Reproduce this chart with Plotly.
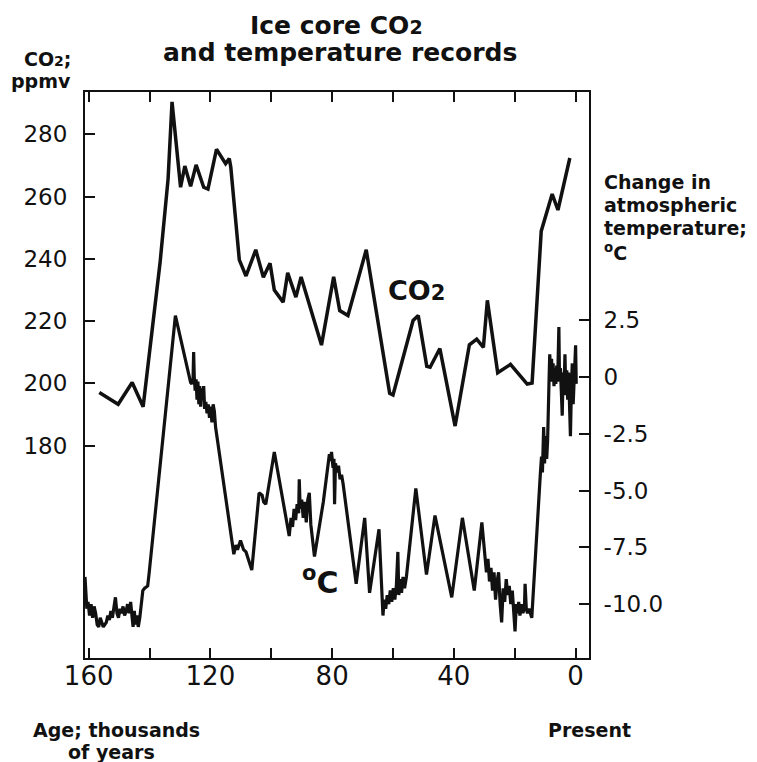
import plotly.graph_objects as go

# ---------------- data ----------------
co2_age = [156.5, 150.3, 145.7, 142.1, 136.5, 134.6, 133.9, 132.6, 129.8, 128.4,
           126.5, 124.7, 122.2, 120.8, 118.0, 115.0, 113.8, 113.3, 110.5, 108.3,
           105.1, 102.6, 100.4, 99.0, 96.1, 94.6, 91.9, 90.2, 83.5, 79.5,
           77.5, 74.8, 68.8, 61.1, 60.0, 53.4, 51.7, 48.9, 47.8, 44.6,
           39.6, 34.9, 32.5, 30.3, 29.0, 25.6, 21.4, 15.9, 14.3, 11.3,
           7.7, 5.8, 1.9]
co2_ppm = [197.1, 193.3, 200.3, 192.5, 239.1, 258.1, 265.7, 290.4, 263.0, 269.8,
           263.3, 270.2, 263.0, 262.4, 275.2, 270.6, 272.2, 269.5, 239.7, 234.5,
           242.9, 234.1, 238.6, 230.0, 226.1, 235.5, 227.7, 234.2, 212.3, 234.2,
           223.4, 221.8, 242.9, 196.8, 196.3, 220.2, 221.8, 205.5, 205.2, 211.2,
           186.3, 212.4, 214.2, 211.6, 226.7, 203.4, 206.1, 199.8, 200.1, 248.9,
           260.8, 255.7, 272.4]

temp_age_a = [161.2, 160.9, 160.6, 160.2, 159.7, 159.2, 158.7, 158.2, 157.7, 157.2,
              156.7, 156.2, 155.2, 154.2, 153.7, 153.2, 152.7, 152.2, 151.7, 151.2,
              150.7, 150.2, 149.7, 149.2, 148.7, 148.2, 147.7, 147.2, 146.7, 146.2,
              145.7, 145.4, 145.0, 144.6, 144.2, 143.7, 143.2, 142.7, 142.2, 141.6,
              140.6, 140.1]
temp_val_a = [-8.8, -9.8, -10.2, -9.9, -10.5, -10.0, -10.6, -10.1, -10.4, -10.9,
              -11.0, -10.6, -11.0, -10.8, -10.5, -10.7, -10.3, -10.6, -10.1, -9.7,
              -10.4, -10.6, -10.2, -10.4, -10.1, -10.5, -10.3, -10.0, -10.4, -9.9,
              -10.6, -11.0, -10.3, -10.9, -10.5, -11.0, -10.6, -10.0, -9.4, -9.3,
              -9.2, -8.6]

temp_age_b = [131.5, 126.5, 126.1, 125.7, 125.5, 125.3, 125.0, 124.7, 124.4, 124.1,
              123.8, 123.5, 123.2, 122.9, 122.6, 122.2, 121.9, 121.5, 121.1, 120.7,
              120.3, 119.9, 119.5, 119.1, 118.7, 118.3]
temp_val_b = [2.7, -0.24, -0.3, -0.1, 1.1, 0.0, -0.6, -0.1, -1.0, -0.2,
              -1.2, -0.4, -1.3, -0.5, -1.0, -0.4, -1.4, -1.1, -1.6, -1.2,
              -1.8, -1.3, -2.0, -1.2, -1.5, -2.2]

temp_age_c = [112.3, 111.6, 111.1, 110.1, 109.1, 108.3, 106.4, 104.0, 103.0, 102.5,
              101.8, 99.0, 94.1, 93.5, 93.0, 92.5, 92.0, 91.5, 91.0, 90.8,
              90.5, 90.0, 89.5, 89.0, 88.5, 88.0, 87.5, 87.0, 85.8, 82.9,
              80.9, 80.5, 80.2, 79.7, 79.4, 79.2, 78.9, 78.4, 77.9, 77.4,
              76.9, 76.4]
temp_val_c = [-7.8, -7.4, -7.6, -7.2, -7.6, -7.7, -8.5, -5.1, -5.2, -5.5,
              -5.6, -3.3, -7.0, -6.2, -6.6, -5.8, -6.3, -5.6, -6.0, -4.5,
              -5.8, -5.4, -6.2, -5.5, -6.4, -5.4, -5.1, -6.5, -7.9, -5.5,
              -3.4, -3.7, -3.3, -4.0, -3.6, -5.6, -3.8, -4.2, -3.9, -4.5,
              -4.3, -4.7]

temp_age_d = [72.1, 69.3, 67.7, 64.6, 63.3, 62.9, 62.4, 61.9, 61.4, 60.9,
              60.4, 59.9, 59.4, 58.9, 58.4, 58.1, 57.7, 57.2, 56.7, 56.2,
              55.6, 52.5, 49.0, 46.2, 40.7, 37.2, 33.3, 30.8, 29.8, 29.3,
              28.8, 28.3, 27.8, 27.3, 26.8, 26.3, 25.8, 25.3, 24.8, 24.3,
              23.8, 23.3, 22.8, 22.3, 21.8, 21.3, 20.8, 20.3, 19.9, 19.5,
              19.1, 18.7, 18.3, 17.8, 17.3, 16.8, 16.6, 16.2, 15.8, 15.3,
              14.8, 14.4]
temp_val_d = [-9.1, -6.2, -9.5, -6.7, -10.5, -9.8, -10.2, -9.6, -10.0, -9.4,
              -9.9, -9.3, -9.8, -9.2, -7.7, -9.6, -8.9, -9.5, -8.8, -9.3,
              -8.8, -4.9, -8.7, -6.1, -9.7, -6.2, -9.4, -6.4, -7.8, -8.6,
              -8.0, -9.0, -8.4, -9.4, -8.6, -9.8, -9.0, -8.6, -10.0, -10.8,
              -9.3, -9.9, -8.9, -9.6, -9.2, -10.0, -9.4, -10.3, -11.2, -10.0,
              -10.4, -9.9, -10.5, -10.0, -10.4, -10.1, -9.1, -10.2, -10.4, -10.2,
              -10.5, -10.6]

temp_age_e = [11.6, 11.2, 10.9, 10.5, 10.2, 9.9, 9.5, 9.2, 8.7, 8.5,
              8.2, 7.9, 7.7, 7.4, 7.1, 6.8, 6.5, 6.2, 5.9, 5.5,
              5.3, 5.0, 4.7, 4.4, 4.1, 3.8, 3.5, 3.2, 2.9, 2.6,
              2.3, 2.0, 1.7, 1.4, 1.1, 0.8, 0.4, 0.0, -0.2]
temp_val_e = [-4.3, -3.5, -4.2, -2.2, -3.8, -2.6, -3.6, -2.8, 0.0, 1.0,
              0.2, 0.8, -0.2, 0.6, -0.4, 0.4, -0.3, 0.5, -0.2, 2.2,
              0.0, 0.4, -0.6, -1.7, 0.2, -0.5, 1.0, -0.8, 0.3, -1.0,
              0.2, -1.4, -2.6, -0.6, 0.6, -1.2, 0.4, 1.4, -0.3]

age_ticks = [160, 120, 80, 40, 0]
age_minor_ticks = [140, 100, 60, 20]
co2_ticks = [280, 260, 240, 220, 200, 180]
temp_ticks = [2.5, 0, -2.5, -5.0, -7.5, -10.0]
temp_labels = ["2.5", "0", "-2.5", "-5.0", "-7.5", "-10.0"]

temp_age = temp_age_a + temp_age_b + temp_age_c + temp_age_d + temp_age_e
temp_val = temp_val_a + temp_val_b + temp_val_c + temp_val_d + temp_val_e

# ---------------- layout geometry ----------------
W_FIG, H_FIG = 757, 762
L, R, T, B = 85, 589, 92, 658
PW, PH = R - L, B - T

def px(x):
    return (x - L) / PW

def py(y):
    return (B - y) / PH

INK = "#111111"
FONT = "DejaVu Sans"

fig = go.Figure()
fig.add_trace(go.Scatter(x=co2_age, y=co2_ppm, mode="lines",
                         line=dict(color=INK, width=3.5), yaxis="y",
                         showlegend=False, hoverinfo="skip"))
fig.add_trace(go.Scatter(x=temp_age, y=temp_val, mode="lines",
                         line=dict(color=INK, width=3.2), yaxis="y2",
                         showlegend=False, hoverinfo="skip"))

fig.update_layout(
    width=W_FIG, height=H_FIG,
    margin=dict(l=L, r=W_FIG - R, t=T, b=H_FIG - B, pad=0),
    paper_bgcolor="white", plot_bgcolor="white",
    showlegend=False,
    font=dict(family=FONT, color=INK),
    xaxis=dict(range=[161.2, -4.4], tickmode="array", tickvals=age_ticks,
               ticks="inside", ticklen=10, tickwidth=1.5, tickcolor=INK,
               minor=dict(tickmode="array", tickvals=age_minor_ticks,
                          ticks="inside", ticklen=10, tickwidth=1.5,
                          tickcolor=INK, showgrid=False),
               showline=True, linecolor=INK, linewidth=2, mirror="ticks",
               showgrid=False, zeroline=False,
               tickfont=dict(family=FONT, size=26, color=INK),
               ticklabelstandoff=-6),
    yaxis=dict(range=[111.8, 293.6], tickmode="array", tickvals=co2_ticks,
               ticks="inside", ticklen=10, tickwidth=1.5, tickcolor=INK,
               showline=True, linecolor=INK, linewidth=2,
               showgrid=False, zeroline=False,
               tickfont=dict(family=FONT, size=23, color=INK),
               ticklabelstandoff=11),
    yaxis2=dict(range=[-12.37, 12.55], overlaying="y", side="right",
                tickmode="array", tickvals=temp_ticks, ticktext=temp_labels,
                ticks="inside", ticklen=10, tickwidth=1.5, tickcolor=INK,
                showline=True, linecolor=INK, linewidth=2,
                showgrid=False, zeroline=False,
                tickfont=dict(family=FONT, size=23, color=INK),
                ticklabelstandoff=8),
)

def note(text, x, y, size, xanchor="center", bold=True):
    t = f"<b>{text}</b>" if bold else text
    fig.add_annotation(text=t, x=px(x), y=py(y), xref="paper", yref="paper",
                       xanchor=xanchor, yanchor="middle", showarrow=False,
                       font=dict(family=FONT, size=size, color=INK))

def small(ch, size):
    return f"<span style='font-size:{size}px'>{ch}</span>"

note("Ice core CO" + small("2", 19), 336, 25, 25)
note("and temperature records", 340, 53, 25)
note("CO" + small("2", 14) + ";", 73, 59, 19, xanchor="right")
note("ppmv", 73, 81, 19, xanchor="right")
note("Change in", 602, 182, 19, xanchor="left")
note("atmospheric", 602, 205, 19, xanchor="left")
note("temperature;", 602, 228, 19, xanchor="left")
note("<sup>o</sup>C", 602, 252, 19, xanchor="left")
note("Age; thousands", 116, 730, 19)
note("of years", 111, 752, 19)
note("Present", 589, 730, 19)
note("CO" + small("2", 21), 416, 290, 27)
note("<sup>o</sup>C", 320, 580, 30)

fig.write_html("out.html",
               config={"displayModeBar": False},
               post_script="document.body.style.margin='0';"
                           "document.body.style.padding='0';")
